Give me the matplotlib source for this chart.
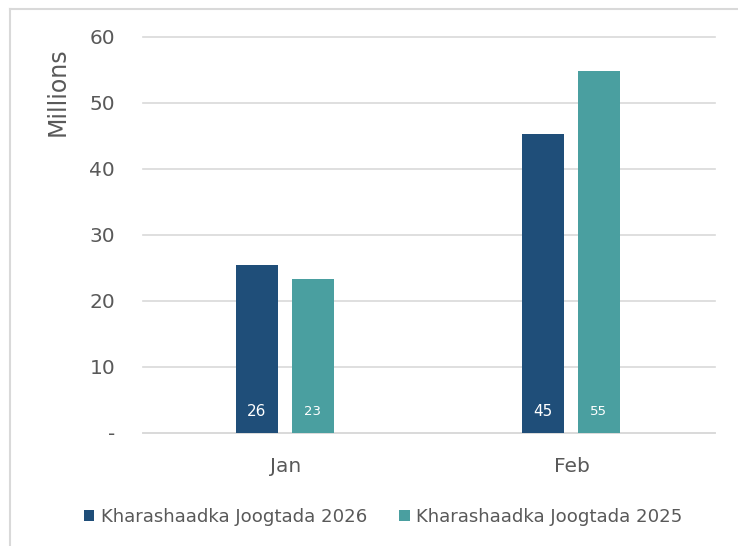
import matplotlib
matplotlib.use("Agg")
import matplotlib.pyplot as plt
from matplotlib.lines import Line2D
import numpy as np

categories = ["Jan", "Feb"]
series_names = ["Kharashaadka Joogtada 2026", "Kharashaadka Joogtada 2025"]
values_2026 = [25.5, 45.3]
values_2025 = [23.3, 54.8]
labels_2026 = ["26", "45"]
labels_2025 = ["23", "55"]
yticks = [0, 10, 20, 30, 40, 50, 60]
ytick_labels = ["-", "10", "20", "30", "40", "50", "60"]

dark = "#1F4E79"
teal = "#4A9FA0"
gray = "#595959"
grid = "#D9D9D9"

fig = plt.figure(figsize=(7.38, 5.46), dpi=100)
ax = fig.add_axes([0.1938, 0.2070, 0.7751, 0.7253])

x = np.arange(len(categories))
bw = 0.147
gap = 0.045
off = (bw + gap) / 2
b1 = ax.bar(x - off - 0.006, values_2026, bw, color=dark, label=series_names[0], zorder=3)
b2 = ax.bar(x + off - 0.003, values_2025, bw, color=teal, label=series_names[1], zorder=3)

for xi, lab in zip(x - off - 0.006, labels_2026):
    ax.text(xi, 3.3, lab, ha="center", va="center", color="white", fontsize=11, zorder=4)
for xi, lab in zip(x + off - 0.003, labels_2025):
    ax.text(xi, 3.3, lab, ha="center", va="center", color="white", fontsize=9.5, zorder=4)

ax.set_xlim(-0.5, 1.5)
ax.set_ylim(0, 60)
ax.set_yticks(yticks)
ax.set_yticklabels(ytick_labels, fontsize=14.5, color=gray)
ax.set_xticks(x)
ax.set_xticklabels(categories, fontsize=14.5, color=gray)
ax.tick_params(axis="both", length=0)
ax.tick_params(axis="y", pad=20)
ax.tick_params(axis="x", pad=17)
ax.grid(axis="y", color=grid, linewidth=1.2, zorder=0)
for gl in ax.get_ygridlines():
    gl.set_clip_on(False)
for s in ["top", "right", "left"]:
    ax.spines[s].set_visible(False)
ax.spines["bottom"].set_color(grid)
ax.spines["bottom"].set_linewidth(1.2)
ax.set_ylabel("Millions", fontsize=17, color=gray)
ax.yaxis.set_label_coords(-0.128, 0.861)

leg = fig.legend(handles=[b1, b2], loc="center", bbox_to_anchor=(0.519, 0.053), ncol=2,
                 frameon=False, handlelength=0.6, handleheight=0.6, handletextpad=0.35,
                 columnspacing=1.75,
                 prop={"family": ["Liberation Sans Narrow", "DejaVu Sans"], "size": 13.1})
for t in leg.get_texts():
    t.set_color(gray)

# chart frame
fig.add_artist(Line2D([10/738, 10/738], [0, 1 - 9/546], color=grid, lw=1.5, transform=fig.transFigure))
fig.add_artist(Line2D([10/738, 1], [1 - 9/546, 1 - 9/546], color=grid, lw=1.5, transform=fig.transFigure))

fig.savefig("out.png", dpi=100)
